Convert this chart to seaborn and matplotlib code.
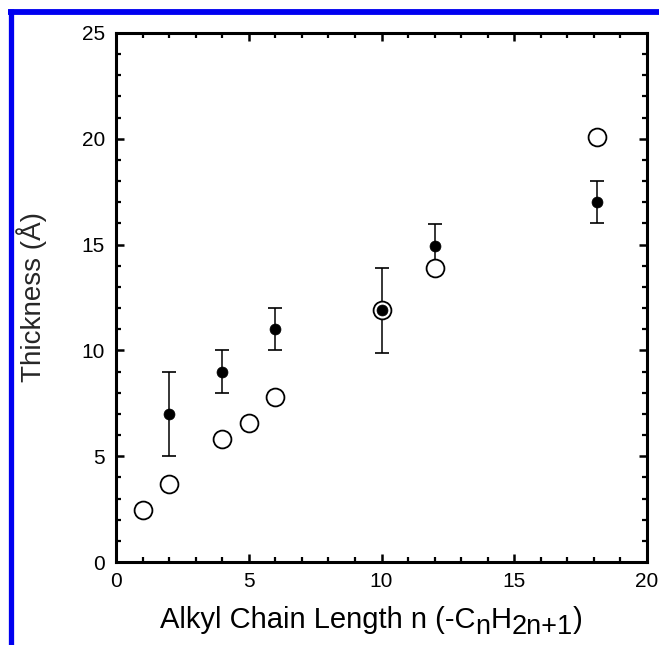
import matplotlib
matplotlib.use("Agg")
import matplotlib.pyplot as plt
from matplotlib.lines import Line2D
from matplotlib.ticker import MultipleLocator
import seaborn as sns
import pandas as pd

# open circles
open_n = [1, 2, 4, 5, 6, 10, 12, 18.1]
open_thick = [2.45, 3.7, 5.8, 6.55, 7.8, 11.9, 13.9, 20.1]

# filled circles with error bars
fill_n = [2, 4, 6, 10, 12, 18.1]
fill_thick = [7.0, 9.0, 11.0, 11.9, 14.95, 17.0]
fill_err = [2.0, 1.0, 1.0, 2.0, 1.0, 1.0]

# x-axis label pieces: (text, is_subscript)
xlabel_parts = [("Alkyl Chain Length n (-C", False), ("n", True), ("H", False),
                ("2n+1", True), (")", False)]
ylabel_text = "Thickness (Å)"

sns.set_theme(style="ticks")
plt.rcParams['font.family'] = ['Liberation Sans', 'DejaVu Sans']

W, H = 659, 645
fig = plt.figure(figsize=(W / 100, H / 100), dpi=100)
ax = fig.add_axes([116/W, 1-562/H, (647-116)/W, (562-33)/H])

df_open = pd.DataFrame({"n": open_n, "t": open_thick})
df_fill = pd.DataFrame({"n": fill_n, "t": fill_thick, "e": fill_err})

ax.errorbar(df_fill["n"], df_fill["t"], yerr=df_fill["e"], fmt="none",
            ecolor="black", elinewidth=1.1, capsize=4.7, capthick=1.2, zorder=2)
sns.scatterplot(data=df_open, x="n", y="t", ax=ax, marker="o", s=165,
                facecolor="white", edgecolor="black", linewidth=1.3, zorder=3)
sns.scatterplot(data=df_fill, x="n", y="t", ax=ax, marker="o", s=62,
                color="black", edgecolor="black", linewidth=0.5, zorder=4)

ax.set_xlim(0, 20)
ax.set_ylim(0, 25)
ax.xaxis.set_major_locator(MultipleLocator(5))
ax.xaxis.set_minor_locator(MultipleLocator(1))
ax.yaxis.set_major_locator(MultipleLocator(5))
ax.yaxis.set_minor_locator(MultipleLocator(1))
ax.tick_params(which="both", direction="in", top=True, right=True,
               colors="black", labelsize=15)
ax.tick_params(which="major", length=5.5, width=1.8)
ax.tick_params(which="minor", length=3.3, width=1.6)
ax.tick_params(axis="x", which="major", pad=7)
ax.tick_params(axis="y", which="major", pad=8)
for s in ax.spines.values():
    s.set_visible(True)
    s.set_linewidth(2.2)
    s.set_color("black")

ax.set_xlabel("")
ax.set_ylabel(ylabel_text, fontsize=20)
ax.yaxis.set_label_coords((47 - 116) / 531, 0.5)

# x label composed of pieces with large subscripts
renderer = fig.canvas.get_renderer()
x_px = 160.0
base_px = 628.5
for txt, sub in xlabel_parts:
    size = 19.5 if sub else 21
    y_px = base_px + (5 if sub else 0)
    t = fig.text(x_px / W, 1 - y_px / H, txt, fontsize=size, va="baseline",
                 ha="left", color="black")
    bb = t.get_window_extent(renderer)
    x_px += bb.width

# blue frame on left and top edges
fig.add_artist(Line2D([10.5/W, 10.5/W], [0, 1-9/H], color="#0000f0",
                      linewidth=3.8, solid_capstyle="butt",
                      transform=fig.transFigure))
fig.add_artist(Line2D([8/W, 1], [1-12/H, 1-12/H], color="#0000f0",
                      linewidth=4.2, solid_capstyle="butt",
                      transform=fig.transFigure))

fig.savefig("out.png", dpi=100)
